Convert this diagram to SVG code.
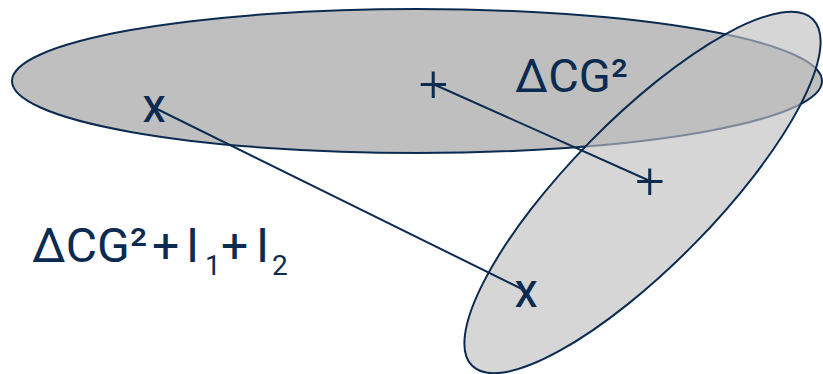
<svg xmlns="http://www.w3.org/2000/svg" width="823" height="374" viewBox="0 0 823 374">
  <style>
    .shape { stroke: #0b2b50; stroke-width: 2; }
    .conn { stroke: #0b2b50; stroke-width: 2; fill: none; }
    .mark { font-family: Roboto, "Liberation Sans", sans-serif; fill: #0b2b50; text-anchor: middle; }
    .lbl { font-family: Roboto, "Liberation Sans", sans-serif; fill: #0b2b50; }
  </style>
  <rect width="823" height="374" fill="#ffffff"/>
  <g id="ellipse-large">
    <ellipse class="shape" cx="417" cy="81" rx="405" ry="72" fill="#bfbfbf"/>
  </g>
  <g id="ellipse-tilted">
    <ellipse cx="642.5" cy="192.5" rx="243" ry="73" transform="rotate(-45.5 642.5 192.5)" fill="#bfbfbf" fill-opacity="0.64" stroke="#0b2b50" stroke-width="2"/>
  </g>
  <g id="connectors">
    <line class="conn" x1="155" y1="108" x2="524" y2="290"/>
    <line class="conn" x1="433" y1="84" x2="650" y2="181"/>
  </g>
  <g id="mark-x1"><text class="mark" x="154" y="122" font-size="36" font-weight="500">X</text></g>
  <g id="mark-x2"><text class="mark" x="526" y="307" font-size="36" font-weight="500">X</text></g>
  <g id="mark-plus1"><text class="mark" x="433.5" y="102" font-size="52" font-weight="300">+</text></g>
  <g id="mark-plus2"><text class="mark" x="650" y="199" font-size="52" font-weight="300">+</text></g>
  <g id="label-dcg"><text class="lbl" x="515" y="92" font-size="47">ΔCG²</text></g>
  <g id="label-sum">
    <text class="lbl" x="32" y="262" font-size="48">ΔCG²<tspan x="152">+</tspan><tspan x="186">I</tspan><tspan x="205" y="275" font-size="28">1</tspan><tspan x="221" y="262">+</tspan><tspan x="256">I</tspan><tspan x="272" y="275" font-size="28">2</tspan></text>
  </g>
</svg>
